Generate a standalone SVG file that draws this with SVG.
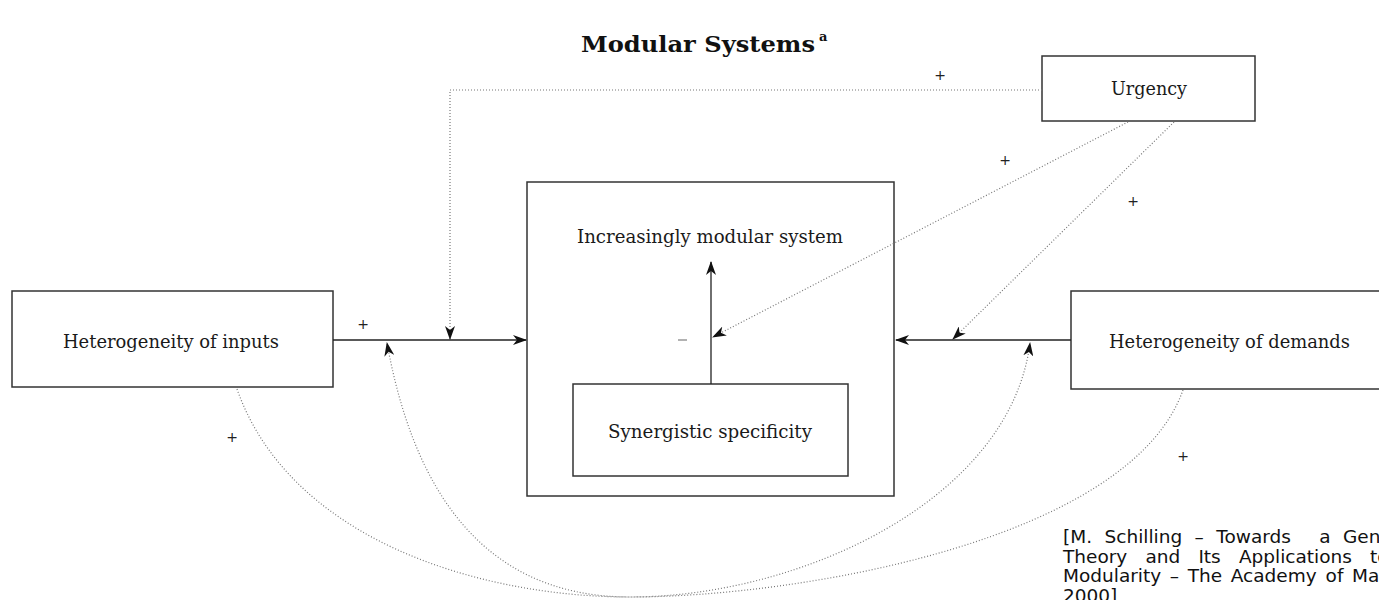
<svg xmlns="http://www.w3.org/2000/svg" width="1379" height="600" viewBox="0 0 1379 600">
<style>
.box{fill:#fff;stroke:#333;stroke-width:1.5}
.lbl{font-family:"DejaVu Serif","Liberation Serif",serif;font-size:18px;fill:#1a1a1a}
.sign{font-family:"DejaVu Sans","Liberation Sans",sans-serif;font-size:14px;fill:#222}
.solid{fill:none;stroke:#222;stroke-width:1.3}
.dot{fill:none;stroke:#777;stroke-width:1.2;stroke-dasharray:1 2}
.cite{font-family:"DejaVu Sans","Verdana",sans-serif;font-size:18.5px;fill:#111}
</style>
<defs>
<marker id="ah" markerWidth="14" markerHeight="10" refX="13" refY="5" orient="auto" markerUnits="userSpaceOnUse">
<path d="M0,0 L14,5 L0,10 L4,5 z" fill="#111"/>
</marker>
<clipPath id="vp"><rect x="0" y="0" width="1379" height="600"/></clipPath>
</defs>
<rect width="1379" height="600" fill="#fff"/>

<g id="title">
<text x="581" y="52" textLength="234" lengthAdjust="spacingAndGlyphs" style="font-family:'DejaVu Serif','Liberation Serif',serif;font-weight:bold;font-size:22px;fill:#111">Modular Systems</text>
<text x="819" y="41" style="font-family:'DejaVu Serif','Liberation Serif',serif;font-weight:bold;font-size:13px;fill:#111">a</text>
</g>

<g id="urgency">
<rect class="box" x="1042" y="56" width="213" height="65"/>
<text class="lbl" x="1149" y="95" text-anchor="middle" textLength="76" lengthAdjust="spacingAndGlyphs">Urgency</text>
</g>

<g id="inputs">
<rect class="box" x="12" y="291" width="321" height="96"/>
<text class="lbl" x="63" y="348" textLength="216" lengthAdjust="spacingAndGlyphs">Heterogeneity of inputs</text>
</g>

<g id="demands">
<rect class="box" x="1071" y="291" width="330" height="98"/>
<text class="lbl" x="1109" y="348" textLength="241" lengthAdjust="spacingAndGlyphs">Heterogeneity of demands</text>
</g>

<g id="system">
<rect class="box" x="527" y="182" width="367" height="314"/>
<text class="lbl" x="577" y="243" textLength="266" lengthAdjust="spacingAndGlyphs">Increasingly modular system</text>
</g>

<g id="synergy">
<rect class="box" x="573" y="384" width="275" height="92"/>
<text class="lbl" x="608" y="438" textLength="204" lengthAdjust="spacingAndGlyphs">Synergistic specificity</text>
</g>

<g id="connectors">
<line class="solid" x1="333" y1="340" x2="526" y2="340" marker-end="url(#ah)"/>
<line class="solid" x1="1071" y1="340" x2="896" y2="340" marker-end="url(#ah)"/>
<line class="solid" x1="711" y1="384" x2="711" y2="262" marker-end="url(#ah)"/>
<path class="dot" d="M1042,90 L450,90 L450,339" marker-end="url(#ah)"/>
<line class="dot" x1="1128" y1="122" x2="713" y2="337" marker-end="url(#ah)"/>
<line class="dot" x1="1174" y1="122" x2="953" y2="339" marker-end="url(#ah)"/>
<path class="dot" d="M237,389 C290,540 480,597 630,597 C800,597 1010,500 1030,343" marker-end="url(#ah)"/>
<path class="dot" d="M1183,390 C1130,540 800,597 630,597 C470,597 410,470 387,343" marker-end="url(#ah)"/>
</g>

<g id="signs">
<text class="sign" x="940" y="80" text-anchor="middle">+</text>
<text class="sign" x="1005" y="165" text-anchor="middle">+</text>
<text class="sign" x="1133" y="206" text-anchor="middle">+</text>
<text class="sign" x="363" y="329" text-anchor="middle">+</text>
<text class="sign" x="232" y="442" text-anchor="middle">+</text>
<text class="sign" x="1183" y="461" text-anchor="middle">+</text>
<line x1="678" y1="340" x2="687" y2="340" stroke="#888" stroke-width="1.3"/>
</g>

<g id="citation" clip-path="url(#vp)">
<text class="cite" y="543"><tspan x="1063">[M.</tspan><tspan x="1104.5">Schilling</tspan><tspan x="1194.6">–</tspan><tspan x="1216.3">Towards</tspan><tspan x="1319.2">a</tspan><tspan x="1343">General</tspan></text>
<text class="cite" y="562.5"><tspan x="1063">Theory</tspan><tspan x="1145.5">and</tspan><tspan x="1198.4">Its</tspan><tspan x="1238.9">Applications</tspan><tspan x="1370">to</tspan></text>
<text class="cite" y="582"><tspan x="1063">Modularity</tspan><tspan x="1169.8">–</tspan><tspan x="1187.7">The</tspan><tspan x="1230.7">Academy</tspan><tspan x="1325.6">of</tspan><tspan x="1352">Management</tspan></text>
<text class="cite" y="601.5"><tspan x="1063">2000]</tspan></text>
</g>
</svg>
